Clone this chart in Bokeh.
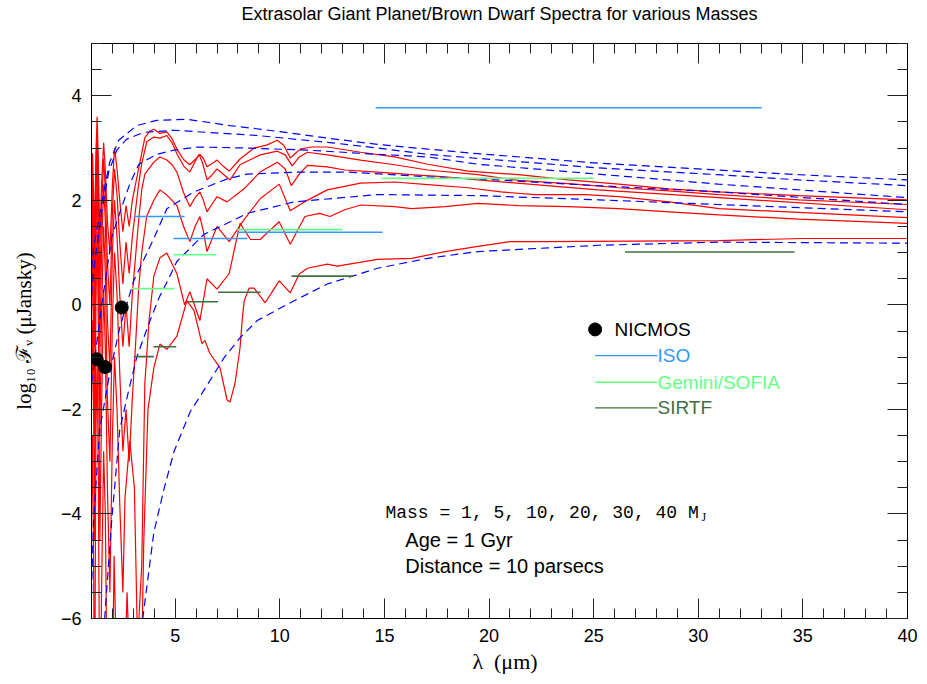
from bokeh.plotting import figure
from bokeh.models import LinearAxis, Range1d, Label, FixedTicker, CustomJSTickFormatter
from bokeh.embed import file_html
from bokeh.resources import INLINE

# ---------------- data ----------------
# Blackbody curves (blue dashed), hottest (40 MJ) to coolest (1 MJ)
bb1_lam = [1.0, 1.10, 1.49, 1.87, 2.30, 3.16, 4.12, 5.56, 7.62, 9.88, 12.27, 14.67, 17.07, 19.23, 25.22, 30.97, 34.81, 40.0]
bb1_flx = [0.7, 1.1, 1.97, 2.73, 3.15, 3.43, 3.53, 3.55, 3.43, 3.32, 3.19, 3.07, 2.98, 2.90, 2.71, 2.58, 2.49, 2.39]
bb2_lam = [1.0, 1.10, 1.49, 1.82, 2.21, 2.68, 3.50, 4.94, 6.52, 8.92, 12.27, 14.67, 17.07, 19.23, 25.22, 30.97, 34.81, 40.0]
bb2_flx = [0.2, 0.65, 1.78, 2.54, 2.96, 3.17, 3.30, 3.34, 3.30, 3.24, 3.11, 3.00, 2.88, 2.81, 2.62, 2.49, 2.39, 2.28]
bb3_lam = [1.0, 1.49, 1.97, 2.45, 2.83, 3.26, 4.12, 4.94, 6.04, 8.44, 11.32, 14.67, 17.07, 19.47, 25.22, 30.97, 40.0]
bb3_flx = [-1.5, 0.0, 1.3, 1.88, 2.31, 2.69, 2.88, 2.96, 3.02, 3.00, 2.96, 2.88, 2.83, 2.69, 2.50, 2.31, 2.05]
bb4_lam = [1.0, 1.10, 1.39, 1.87, 2.35, 3.02, 3.98, 4.60, 5.90, 7.48, 8.44, 10.84, 13.23, 17.07, 19.47, 25.22, 30.97, 40.0]
bb4_flx = [-5.5, -4.10, -2.39, -1.31, -0.44, 0.46, 1.27, 1.84, 2.16, 2.41, 2.50, 2.54, 2.54, 2.45, 2.41, 2.28, 2.16, 1.92]
bb5_lam = [1.5, 1.63, 1.97, 2.35, 2.78, 3.16, 3.74, 4.22, 4.70, 5.08, 6.38, 7.48, 8.44, 10.69, 14.67, 19.47, 25.22, 30.97, 40.0]
bb5_flx = [-7.5, -6.0, -4.10, -2.39, -1.63, -1.01, -0.36, 0.13, 0.51, 0.83, 1.35, 1.56, 1.75, 1.97, 2.11, 2.09, 2.01, 1.92, 1.78]
bb6_lam = [3.2, 3.45, 3.98, 4.46, 4.94, 5.71, 6.52, 7.34, 8.10, 8.92, 10.69, 12.27, 14.67, 17.07, 19.47, 25.22, 30.97, 40.0]
bb6_flx = [-7.0, -6.0, -4.35, -3.53, -2.81, -2.05, -1.54, -1.01, -0.63, -0.30, 0.08, 0.40, 0.70, 0.89, 1.02, 1.14, 1.20, 1.18]

# Model spectra (red), 40, 30, 20, 10, 5, 1 MJ
sp1_lam = [1.00, 1.05, 1.10, 1.15, 1.21, 1.27, 1.33, 1.40, 1.48, 1.58, 1.66, 1.76, 1.88, 2.00, 2.10, 2.22, 2.35, 2.50, 2.65, 2.80, 2.95, 3.10, 3.25, 3.40, 3.55, 3.80, 3.98, 4.27, 4.60, 4.85, 5.08, 5.40, 5.70, 5.95, 6.18, 6.35, 6.52, 6.75, 7.00, 7.30, 7.58, 8.10, 8.77, 9.40, 9.88, 10.20, 10.50, 10.75, 10.98, 11.50, 12.27, 13.86, 15.49, 17.07, 18.99, 21.40, 23.80, 26.20, 28.60, 31.00, 34.80, 40.00]
sp1_flx = [1.8, 2.9, 2.1, 1.3, 2.9, 3.6, 2.7, 1.2, 2.3, 3.1, 2.6, 1.6, 1.0, 2.3, 3.0, 2.6, 2.0, 1.4, 1.9, 1.5, 2.0, 2.3, 2.6, 2.9, 3.2, 3.33, 3.36, 3.28, 3.31, 3.18, 2.98, 2.78, 2.68, 2.78, 2.88, 2.80, 2.64, 2.70, 2.77, 2.65, 2.56, 2.79, 3.00, 3.06, 3.15, 3.05, 2.81, 2.90, 2.98, 3.02, 3.02, 2.92, 2.83, 2.69, 2.56, 2.49, 2.39, 2.31, 2.22, 2.16, 2.09, 2.01]
sp2_lam = [1.00, 1.05, 1.10, 1.15, 1.21, 1.27, 1.33, 1.40, 1.48, 1.58, 1.66, 1.76, 1.88, 2.00, 2.10, 2.22, 2.35, 2.50, 2.65, 2.80, 2.95, 3.10, 3.25, 3.40, 3.64, 3.98, 4.27, 4.60, 4.85, 5.08, 5.40, 5.70, 5.92, 6.14, 6.32, 6.52, 6.75, 7.00, 7.30, 7.62, 8.10, 9.06, 9.88, 10.26, 10.59, 10.93, 11.32, 12.27, 13.86, 15.49, 17.07, 19.47, 21.40, 23.80, 26.20, 28.60, 31.00, 34.80, 40.00]
sp2_flx = [1.2, 2.5, 1.5, 0.4, 2.5, 3.3, 2.2, 0.3, 1.8, 2.8, 2.2, 0.8, 0.0, 1.8, 2.6, 2.1, 1.2, 0.4, 1.2, 0.6, 1.3, 1.8, 2.3, 2.7, 3.12, 3.21, 3.19, 3.24, 3.10, 2.89, 2.66, 2.54, 2.72, 2.88, 2.70, 2.39, 2.48, 2.60, 2.50, 2.39, 2.68, 2.87, 2.94, 2.87, 2.66, 2.83, 2.92, 2.87, 2.77, 2.68, 2.58, 2.49, 2.38, 2.32, 2.24, 2.18, 2.11, 2.01, 1.92]
sp3_lam = [1.00, 1.05, 1.10, 1.15, 1.21, 1.27, 1.33, 1.40, 1.48, 1.58, 1.66, 1.76, 1.88, 2.00, 2.10, 2.22, 2.35, 2.50, 2.65, 2.80, 2.95, 3.10, 3.25, 3.40, 3.55, 3.98, 4.27, 4.60, 4.85, 5.08, 5.40, 5.70, 5.95, 6.18, 6.35, 6.52, 6.75, 7.00, 7.48, 8.29, 9.06, 9.88, 10.26, 10.55, 10.93, 11.32, 12.27, 13.10, 14.67, 16.30, 17.90, 19.47, 25.20, 31.00, 40.00]
sp3_flx = [0.5, 2.0, 0.8, -0.8, 2.0, 3.0, 1.6, -0.8, 1.0, 2.3, 1.6, -0.3, -1.2, 1.0, 2.0, 1.3, 0.2, -0.8, 0.0, -0.8, 0.2, 0.9, 1.6, 2.2, 2.5, 2.73, 2.83, 2.77, 2.68, 2.54, 2.15, 1.88, 2.05, 2.16, 2.00, 1.78, 1.92, 2.07, 1.97, 2.22, 2.54, 2.73, 2.60, 2.28, 2.50, 2.67, 2.64, 2.58, 2.54, 2.49, 2.45, 2.39, 2.20, 2.05, 1.82]
sp4_lam = [1.00, 1.05, 1.10, 1.15, 1.21, 1.27, 1.33, 1.40, 1.48, 1.58, 1.66, 1.76, 1.88, 2.00, 2.10, 2.22, 2.35, 2.50, 2.65, 2.80, 2.95, 3.10, 3.25, 3.40, 3.64, 3.98, 4.27, 4.60, 4.85, 5.08, 5.40, 5.70, 5.95, 6.18, 6.35, 6.52, 6.75, 7.00, 7.58, 8.29, 9.06, 9.97, 10.50, 11.17, 12.27, 13.86, 15.49, 17.07, 18.99, 20.57, 22.20, 24.60, 26.20, 28.60, 31.00, 40.00]
sp4_flx = [-0.5, 1.2, -0.5, -2.5, 1.2, 2.4, 0.8, -2.5, -0.2, 1.5, 0.6, -1.8, -3.0, -0.3, 1.0, 0.2, -1.3, -2.8, -2.0, -3.0, -1.8, -0.8, 0.3, 1.0, 1.7, 2.0, 2.2, 2.1, 2.0, 1.90, 1.50, 1.21, 1.50, 1.69, 1.40, 1.02, 1.25, 1.50, 1.21, 1.63, 2.03, 2.31, 1.80, 1.97, 2.20, 2.33, 2.35, 2.30, 2.24, 2.16, 2.11, 2.11, 2.07, 1.97, 1.84, 1.67]
sp5_lam = [1.00, 1.05, 1.10, 1.15, 1.21, 1.27, 1.33, 1.40, 1.48, 1.58, 1.66, 1.76, 1.88, 2.00, 2.10, 2.22, 2.35, 2.50, 2.60, 2.83, 3.05, 3.20, 3.40, 3.55, 3.75, 3.98, 4.27, 4.60, 5.08, 5.45, 5.70, 6.18, 6.52, 7.00, 7.58, 8.10, 8.60, 9.06, 9.97, 10.50, 11.20, 11.90, 12.40, 13.10, 13.86, 15.49, 16.30, 17.90, 19.47, 21.40, 23.80, 26.20, 28.60, 31.00, 34.80, 40.00]
sp5_flx = [-2.0, -0.3, -2.0, -4.5, 0.0, 1.4, -0.5, -4.5, -2.0, 0.3, -0.8, -3.5, -5.5, -2.5, -1.0, -2.0, -3.8, -5.5, -3.7, -2.6, -3.5, -6.5, -5.0, -1.5, -0.3, 0.55, 0.90, 0.99, 0.60, 0.0, 0.25, -0.3, 0.5, 0.3, 0.6, 1.56, 1.25, 1.25, 1.59, 1.16, 1.69, 1.75, 1.69, 1.82, 1.91, 1.88, 1.84, 1.88, 1.94, 1.90, 1.88, 1.84, 1.78, 1.72, 1.64, 1.56]
sp6_lam = [1.00, 1.05, 1.10, 1.15, 1.21, 1.27, 1.33, 1.40, 1.48, 1.58, 1.66, 1.76, 1.95, 2.08, 2.25, 2.45, 2.70, 3.00, 3.30, 3.50, 3.70, 3.98, 4.27, 4.60, 5.08, 5.56, 5.90, 6.28, 6.42, 6.66, 7.14, 7.48, 7.62, 7.86, 8.10, 8.20, 8.30, 8.53, 8.77, 9.30, 9.97, 10.50, 10.93, 11.32, 12.27, 12.75, 14.67, 16.30, 17.90, 19.47, 21.00, 22.60, 31.00, 35.00, 40.00]
sp6_flx = [-4.0, -2.5, -5.0, -8.0, -2.5, -1.0, -3.5, -8.5, -5.5, -2.8, -4.0, -8.0, -9.0, -4.8, -8.0, -9.0, -5.5, -9.0, -9.0, -4.5, -2.0, -1.2, -0.75, -0.85, -0.6, 0.08, -0.11, -0.74, -0.68, -0.93, -1.20, -1.82, -1.86, -1.50, -0.82, -0.30, 0.08, 0.32, 0.32, 0.04, 0.46, 0.23, 0.59, 0.70, 0.78, 0.74, 0.87, 0.89, 1.02, 1.12, 1.21, 1.21, 1.23, 1.27, 1.27]

# Instrument sensitivities (horizontal bars)
iso_lo = [14.58, 3.02, 4.92, 7.96]
iso_hi = [33.03, 5.45, 8.44, 14.91]
iso_flx = [3.77, 1.69, 1.27, 1.39]
gem_lo = [7.96, 4.92, 2.92, 14.87]
gem_hi = [12.99, 6.97, 4.97, 25.00]
gem_flx = [1.44, 0.96, 0.31, 2.42]
sirtf_lo = [26.5, 10.56, 7.05, 5.56, 3.96, 3.02]
sirtf_hi = [34.6, 13.50, 9.08, 7.05, 5.05, 3.98]
sirtf_flx = [1.01, 0.55, 0.24, 0.06, -0.80, -0.99]

# NICMOS points
nic_lam = [1.25, 1.645, 2.445]
nic_flx = [-1.04, -1.19, -0.05]

x_major = [5, 10, 15, 20, 25, 30, 35, 40]
y_major = [-6, -4, -2, 0, 2, 4]

# ---------------- styles ----------------
RED = "#ff0000"
BLUE = "#0000ff"
ISO_C = "#3399ff"
GEM_C = "#66ff88"
SIRTF_C = "#3f6f3f"
SANS = "Liberation Sans"
SERIF = "Liberation Serif"

p = figure(width=917, height=676, x_range=Range1d(1, 40), y_range=Range1d(-6, 5),
           output_backend="svg", toolbar_location=None,
           min_border_left=91, min_border_right=10, min_border_top=43, min_border_bottom=56)
p.grid.visible = False
p.outline_line_color = "black"
p.background_fill_color = "white"

# second (blank) line lifts the title into the top margin
p.title.text = "Extrasolar Giant Planet/Brown Dwarf Spectra for various Masses\n\u00a0"
p.title.align = "center"
p.title.text_font = SANS
p.title.text_font_size = "18px"
p.title.text_font_style = "normal"
p.title.text_color = "black"
p.title.text_line_height = 1.0
p.title.standoff = 0

xt = FixedTicker(ticks=x_major, minor_ticks=list(range(1, 41)))
yt = FixedTicker(ticks=y_major, minor_ticks=[v * 0.5 for v in range(-12, 11)])
blank = CustomJSTickFormatter(code="return ''")

def style_axis(ax, labels=True):
    ax.major_tick_in = 20
    ax.major_tick_out = 0
    ax.minor_tick_in = 10
    ax.minor_tick_out = 0
    ax.major_tick_line_color = "#222222"
    ax.minor_tick_line_color = "#222222"
    ax.axis_line_color = "black"
    if labels:
        ax.major_label_text_font = SANS
        ax.major_label_text_font_size = "18px"
        ax.major_label_text_color = "black"
    else:
        ax.formatter = blank
        ax.major_label_standoff = 0

p.xaxis.ticker = xt
p.yaxis.ticker = yt
style_axis(p.xaxis[0])
style_axis(p.yaxis[0])
p.xaxis.major_label_standoff = 10
p.yaxis.major_label_standoff = 10
p.xaxis.axis_label = "\u00a0\u00a0λ\u00a0\u00a0(μm)"
p.yaxis.axis_label = "log₁₀ ℱᵥ (μJansky)"
for ax in (p.xaxis[0], p.yaxis[0]):
    ax.axis_label_text_font = SERIF
    ax.axis_label_text_font_style = "normal"
    ax.axis_label_text_color = "black"
p.xaxis.axis_label_text_font_size = "22px"
p.yaxis.axis_label_text_font_size = "21px"
p.xaxis.axis_label_standoff = 4
p.yaxis.axis_label_standoff = 22

top = LinearAxis(ticker=xt)
style_axis(top, labels=False)
p.add_layout(top, "above")
right = LinearAxis(ticker=yt)
style_axis(right, labels=False)
p.add_layout(right, "right")

# spectra
for lam, flx in [(sp1_lam, sp1_flx), (sp2_lam, sp2_flx), (sp3_lam, sp3_flx),
                 (sp4_lam, sp4_flx), (sp5_lam, sp5_flx), (sp6_lam, sp6_flx)]:
    p.line(lam, flx, line_color=RED, line_width=1.2)
for lam, flx in [(bb1_lam, bb1_flx), (bb2_lam, bb2_flx), (bb3_lam, bb3_flx),
                 (bb4_lam, bb4_flx), (bb5_lam, bb5_flx), (bb6_lam, bb6_flx)]:
    p.line(lam, flx, line_color=BLUE, line_width=1.2, line_dash="8 5")

p.segment(x0=iso_lo, x1=iso_hi, y0=iso_flx, y1=iso_flx, line_color=ISO_C, line_width=1.6)
p.segment(x0=gem_lo, x1=gem_hi, y0=gem_flx, y1=gem_flx, line_color=GEM_C, line_width=1.6)
p.segment(x0=sirtf_lo, x1=sirtf_hi, y0=sirtf_flx, y1=sirtf_flx, line_color=SIRTF_C, line_width=1.6)
p.scatter(nic_lam, nic_flx, size=13, color="black")

# legend (drawn by hand, positions in data space)
LX0, LX1, LXT = 25.07, 28.05, 28.05
p.scatter([LX0], [-0.47], size=13, color="black")
p.add_layout(Label(x=26.0, y=-0.47, text="NICMOS", text_font=SANS, text_font_size="19px",
                   text_baseline="middle", text_color="black"))
for yy, name, col in [(-0.97, "ISO", ISO_C), (-1.48, "Gemini/SOFIA", GEM_C), (-1.97, "SIRTF", SIRTF_C)]:
    p.line([LX0, LX1], [yy, yy], line_color=col, line_width=1.3)
    p.add_layout(Label(x=LXT, y=yy, text=name, text_font=SANS, text_font_size="19px",
                       text_baseline="middle", text_color=col))

p.add_layout(Label(x=15.05, y=-3.98, text="Mass = 1, 5, 10, 20, 30, 40 M", text_font="Liberation Mono",
                   text_font_size="18px", text_baseline="middle", text_color="black"))
p.add_layout(Label(x=15.05, y=-3.98, x_offset=316, y_offset=-4, text="J", text_font="Liberation Serif",
                   text_font_size="12px", text_baseline="middle", text_color="black"))
p.add_layout(Label(x=16.0, y=-4.50, text="Age = 1 Gyr", text_font=SANS,
                   text_font_size="20px", text_baseline="middle", text_color="black"))
p.add_layout(Label(x=16.0, y=-4.99, text="Distance = 10 parsecs", text_font=SANS,
                   text_font_size="20px", text_baseline="middle", text_color="black"))

open("out.html", "w").write(file_html(p, INLINE))
